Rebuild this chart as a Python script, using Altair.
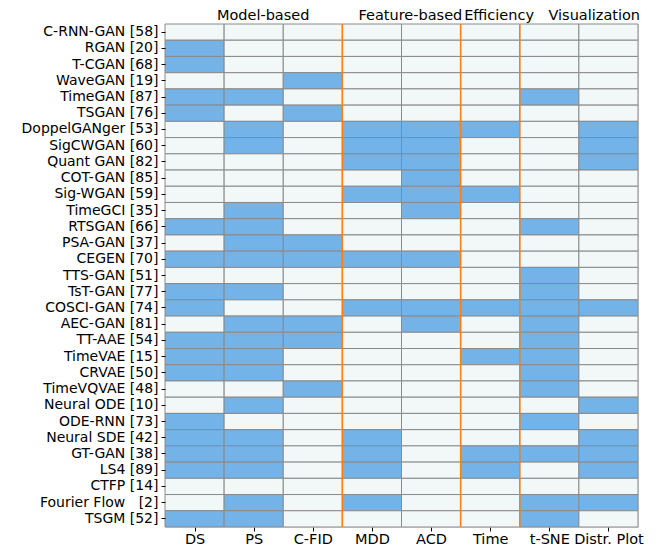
import altair as alt
import pandas as pd

methods = ["C-RNN-GAN [58]", "RGAN [20]", "T-CGAN [68]", "WaveGAN [19]", "TimeGAN [87]",
           "TSGAN [76]", "DoppelGANger [53]", "SigCWGAN [60]", "Quant GAN [82]", "COT-GAN [85]",
           "Sig-WGAN [59]", "TimeGCI [35]", "RTSGAN [66]", "PSA-GAN [37]", "CEGEN [70]",
           "TTS-GAN [51]", "TsT-GAN [77]", "COSCI-GAN [74]", "AEC-GAN [81]", "TT-AAE [54]",
           "TimeVAE [15]", "CRVAE [50]", "TimeVQVAE [48]", "Neural ODE [10]", "ODE-RNN [73]",
           "Neural SDE [42]", "GT-GAN [38]", "LS4 [89]", "CTFP [14]",
           "Fourier Flow\u00a0\u00a0\u00a0[2]", "TSGM [52]"]
metrics = ["DS", "PS", "C-FID", "MDD", "ACD", "Time", "t-SNE", "Distr. Plot"]
grid = [
    [0, 0, 0, 0, 0, 0, 0, 0],
    [1, 0, 0, 0, 0, 0, 0, 0],
    [1, 0, 0, 0, 0, 0, 0, 0],
    [0, 0, 1, 0, 0, 0, 0, 0],
    [1, 1, 0, 0, 0, 0, 1, 0],
    [1, 0, 1, 0, 0, 0, 0, 0],
    [0, 1, 0, 1, 1, 1, 0, 1],
    [0, 1, 0, 1, 1, 0, 0, 1],
    [0, 0, 0, 1, 1, 0, 0, 1],
    [0, 0, 0, 0, 1, 0, 0, 0],
    [0, 0, 0, 1, 1, 1, 0, 0],
    [0, 1, 0, 0, 1, 0, 0, 0],
    [1, 1, 0, 0, 0, 0, 1, 0],
    [0, 1, 1, 0, 0, 0, 0, 0],
    [1, 1, 1, 1, 1, 0, 0, 0],
    [0, 0, 0, 0, 0, 0, 1, 0],
    [1, 1, 0, 0, 0, 0, 1, 0],
    [1, 0, 0, 1, 1, 1, 1, 1],
    [0, 1, 1, 0, 1, 0, 1, 0],
    [1, 1, 1, 0, 0, 0, 1, 0],
    [1, 1, 0, 0, 0, 1, 1, 0],
    [1, 1, 0, 0, 0, 0, 1, 0],
    [0, 0, 1, 0, 0, 0, 1, 0],
    [0, 1, 0, 0, 0, 0, 0, 1],
    [1, 0, 0, 0, 0, 0, 1, 0],
    [1, 1, 0, 1, 0, 0, 0, 1],
    [1, 1, 0, 1, 0, 1, 1, 1],
    [1, 1, 0, 1, 0, 1, 0, 1],
    [0, 0, 0, 0, 0, 0, 0, 0],
    [0, 1, 0, 1, 0, 0, 1, 1],
    [1, 1, 0, 0, 0, 0, 1, 0],
]
group_titles = ["Model-based", "Feature-based", "Efficiency", "Visualization"]
group_title_pos = [1.66, 4.15, 5.65, 7.26]
separators = [3, 5, 6]

rows = []
for i, m in enumerate(methods):
    for j, k in enumerate(metrics):
        rows.append({"method": m, "x0": j, "x1": j + 1, "v": grid[i][j]})
df = pd.DataFrame(rows)

W, H = 473, 503
label_expr = "[" + ",".join("'%s'" % m for m in metrics) + "][floor(datum.value)]"

xscale = alt.Scale(domain=[0, 8], nice=False, zero=False)

cells = alt.Chart(df).mark_rect(stroke="#8a8a8a", strokeWidth=1).encode(
    x=alt.X("x0:Q", scale=xscale,
            axis=alt.Axis(values=[j + 0.5 for j in range(8)], labelExpr=label_expr,
                          title=None, grid=False, domain=False, tickColor="#000",
                          tickSize=4, labelFontSize=14.5, labelColor="#000",
                          labelFont="DejaVu Sans", labelPadding=1)),
    x2="x1:Q",
    y=alt.Y("method:N", sort=methods,
            scale=alt.Scale(paddingInner=0, paddingOuter=0),
            axis=alt.Axis(title=None, domain=False, tickColor="#000", tickSize=4,
                          labelFontSize=14, labelColor="#000", labelFont="DejaVu Sans",
                          labelPadding=3, labelLimit=300)),
    color=alt.Color("v:N", scale=alt.Scale(domain=[0, 1], range=["#f2f7f7", "#74b3e8"]),
                    legend=None),
)

sep = alt.Chart(pd.DataFrame({"s": separators})).mark_rule(
    color="#ff7f0e", strokeWidth=1.5).encode(
    x=alt.X("s:Q", scale=xscale), y=alt.value(0), y2=alt.value(H))

titles = alt.Chart(pd.DataFrame({"t": group_titles, "p": group_title_pos})).mark_text(
    fontSize=14.5, font="DejaVu Sans", color="#000", baseline="middle", align="center").encode(
    x=alt.X("p:Q", scale=xscale), y=alt.value(-8), text="t:N")

chart = alt.layer(cells, sep, titles).properties(
    width=W, height=H,
    autosize=alt.AutoSizeParams(type="none"),
    padding={"left": 157, "top": 16, "right": 16, "bottom": 20}
).configure_view(stroke=None).configure(background="white")

chart.save("out.html", embed_options={"renderer": "svg", "actions": False})
